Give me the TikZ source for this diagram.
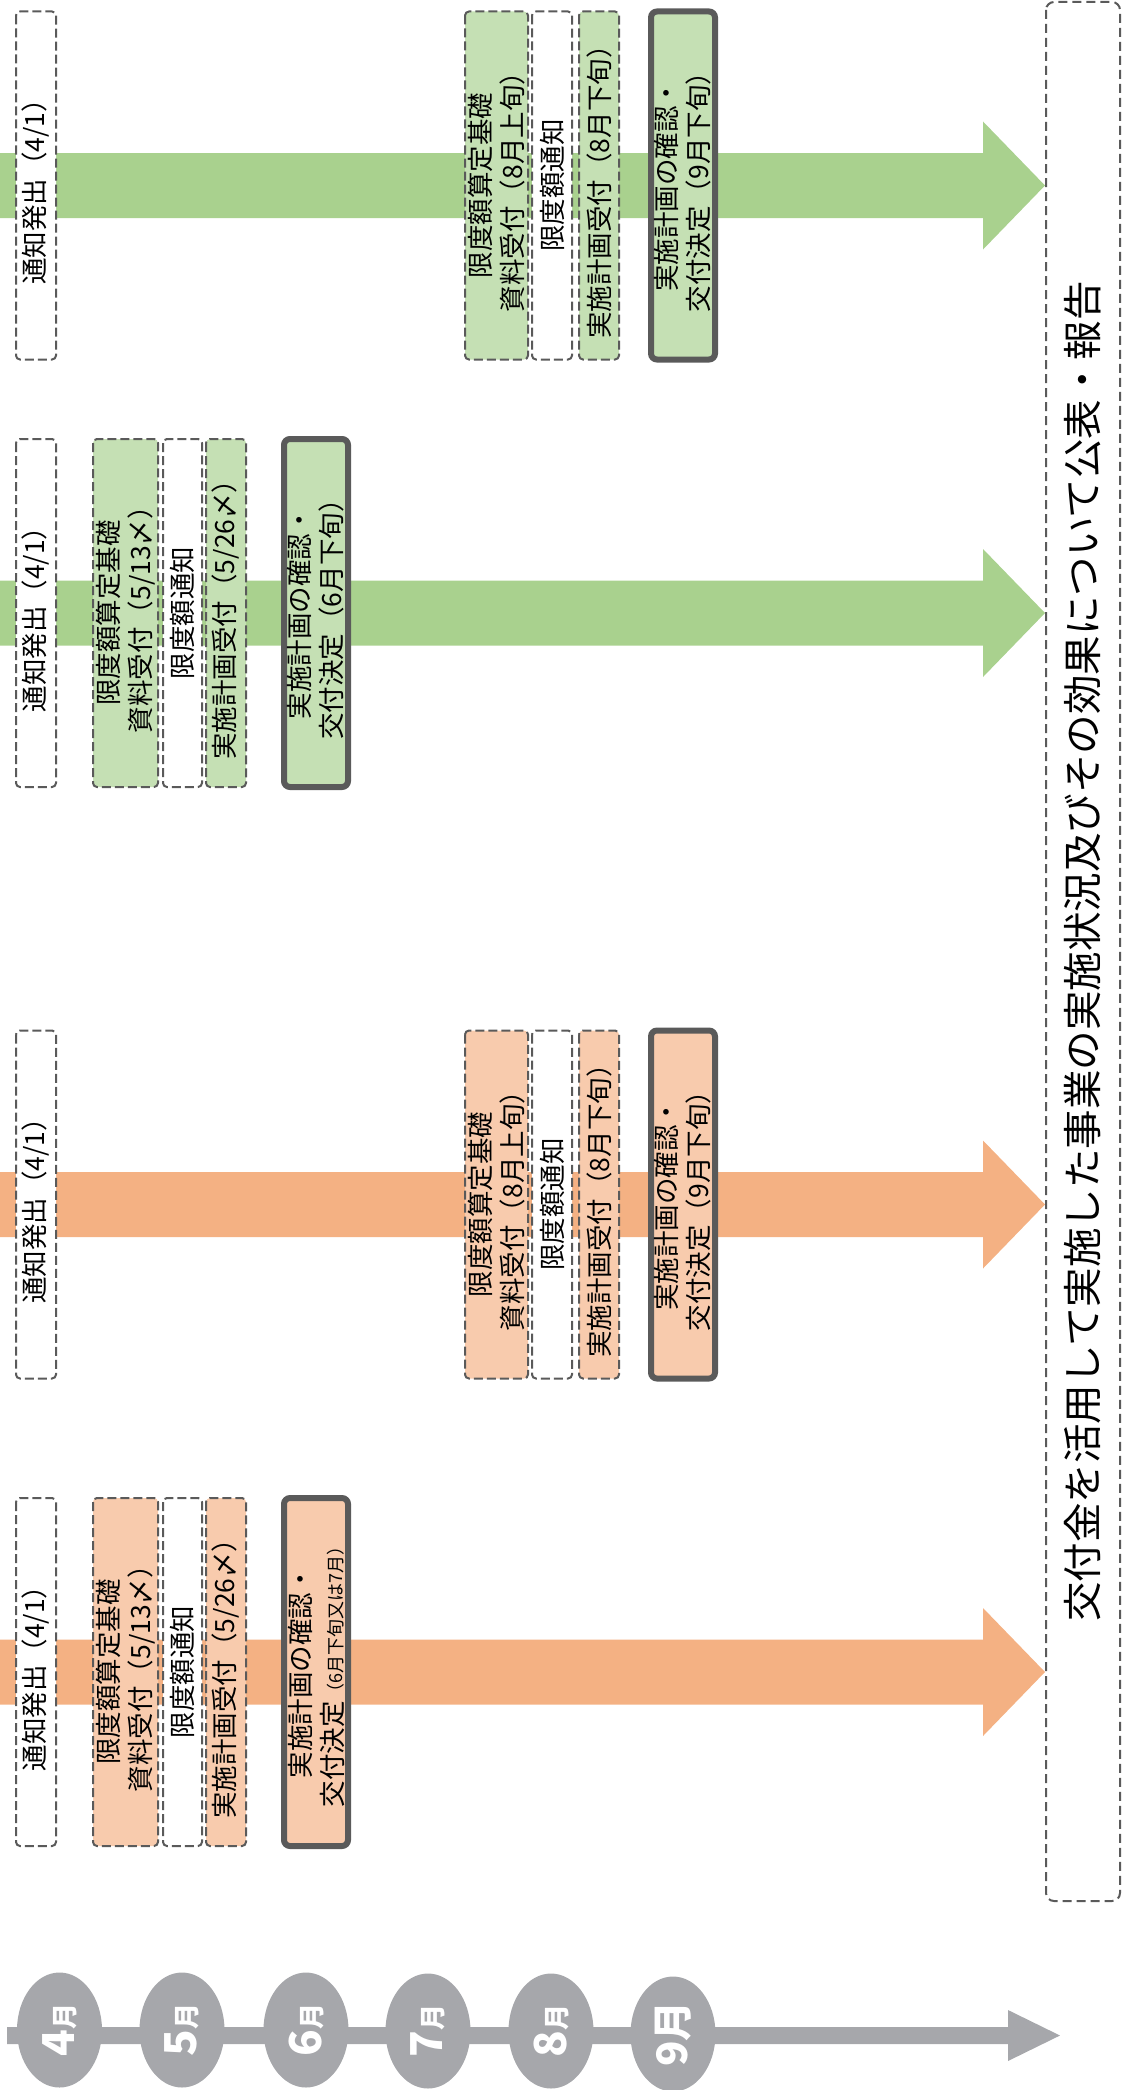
\documentclass[tikz,border=0pt]{standalone}
\usepackage{fontspec}
\setmainfont{Noto Sans CJK JP}
\usetikzlibrary{shapes.geometric}
\definecolor{cGbar}{HTML}{A9D18E}
\definecolor{cGbox}{HTML}{C5E0B4}
\definecolor{cObar}{HTML}{F4B183}
\definecolor{cObox}{HTML}{F8CBAD}
\definecolor{cEdge}{HTML}{5A5A5A}
\definecolor{cTl}{HTML}{A6A7AB}
\newcommand\blockarrow[2]{%
  \fill[#1] (0,#2-32.5) -- (983,#2-32.5) -- (983,#2-64) -- (1045,#2)
     -- (983,#2+64) -- (983,#2+32.5) -- (0,#2+32.5) -- cycle;}
\newcommand\monthtxt[3]{{\fontsize{#2}{#2}\selectfont #1}{\fontsize{#3}{#3}\selectfont 月}}
\tikzset{
  every node/.style={font=\fontsize{26.5}{32}\selectfont, text=black, align=center, inner sep=0pt},
  pbox/.style={draw=cEdge, line width=2pt, dash pattern=on 9pt off 4pt,
               rounded corners=4pt, rotate=90, minimum width=348pt},
  tbox/.style={draw=cEdge, line width=6pt, rounded corners=6pt, rotate=90,
               minimum width=348pt, minimum height=64pt},
  bigbox/.style={draw=cEdge, line width=2pt, dash pattern=on 9pt off 5pt,
               rounded corners=8pt, rotate=90, minimum width=1899pt, minimum height=74pt,
               font=\fontsize{39.5}{40}\selectfont},
  monnode/.style={ellipse, fill=cTl, rotate=90, minimum width=115pt, minimum height=85pt,
               inner sep=0pt, text=white, font=\bfseries},
}
\begin{document}
\begin{tikzpicture}[x=1pt,y=-1pt]
\useasboundingbox (0,0) rectangle (1128,2090);
% block arrows
\blockarrow{cGbar}{185.5}
\blockarrow{cGbar}{613}
\blockarrow{cObar}{1204.5}
\blockarrow{cObar}{1672}
% row 1 (green, later schedule)
\node[pbox, fill=white, minimum height=40pt] (a1) at (36,185.5) {通知発出（4/1）};
\node[pbox, fill=cGbox, minimum height=63pt] (b1) at (496.5,185.5) {限度額算定基礎\\資料受付（8月上旬）};
\node[pbox, fill=white, minimum height=40pt] (c1) at (552,185.5) {限度額通知};
\node[pbox, fill=cGbox, minimum height=40pt] (d1) at (599,185.5) {実施計画受付（8月下旬）};
\node[tbox, fill=cGbox] (e1) at (683,185.5) {実施計画の確認・\\交付決定（9月下旬）};
% row 2 (green, early schedule)
\node[pbox, fill=white, minimum height=40pt] (a2) at (36,613) {通知発出（4/1）};
\node[pbox, fill=cGbox, minimum height=65pt] (b2) at (125.5,613) {限度額算定基礎\\資料受付（5/13〆）};
\node[pbox, fill=white, minimum height=39pt] (c2) at (182.5,613) {限度額通知};
\node[pbox, fill=cGbox, minimum height=40pt] (d2) at (226,613) {実施計画受付（5/26〆）};
\node[tbox, fill=cGbox] (e2) at (316,613) {実施計画の確認・\\交付決定（6月下旬）};
% row 3 (orange, later schedule)
\node[pbox, fill=white, minimum height=40pt] (a3) at (36,1204.5) {通知発出（4/1）};
\node[pbox, fill=cObox, minimum height=63pt] (b3) at (496.5,1204.5) {限度額算定基礎\\資料受付（8月上旬）};
\node[pbox, fill=white, minimum height=40pt] (c3) at (552,1204.5) {限度額通知};
\node[pbox, fill=cObox, minimum height=40pt] (d3) at (599,1204.5) {実施計画受付（8月下旬）};
\node[tbox, fill=cObox] (e3) at (683,1204.5) {実施計画の確認・\\交付決定（9月下旬）};
% row 4 (orange, early schedule)
\node[pbox, fill=white, minimum height=40pt] (a4) at (36,1672) {通知発出（4/1）};
\node[pbox, fill=cObox, minimum height=65pt] (b4) at (125.5,1672) {限度額算定基礎\\資料受付（5/13〆）};
\node[pbox, fill=white, minimum height=39pt] (c4) at (182.5,1672) {限度額通知};
\node[pbox, fill=cObox, minimum height=40pt] (d4) at (226,1672) {実施計画受付（5/26〆）};
\node[tbox, fill=cObox] (e4) at (316,1672) {実施計画の確認・\\交付決定{\fontsize{18}{18}\selectfont（6月下旬又は7月）}};
% final report box
\node[bigbox, fill=white] (rep) at (1083,951.5) {交付金を活用して実施した事業の実施状況及びその効果について公表・報告};
% timeline
\fill[cTl] (7,2027) -- (1008,2027) -- (1008,2010) -- (1060,2035.5)
   -- (1008,2061) -- (1008,2044) -- (7,2044) -- cycle;
\node[monnode] (m4) at (59.5,2030) {\monthtxt{4}{44}{26}};
\node[monnode] (m5) at (182,2030) {\monthtxt{5}{44}{26}};
\node[monnode] (m6) at (306,2030) {\monthtxt{6}{44}{26}};
\node[monnode] (m7) at (428,2031) {\monthtxt{7}{44}{26}};
\node[monnode] (m8) at (551,2031) {\monthtxt{8}{44}{26}};
\node[monnode] (m9) at (673,2034) {\monthtxt{9}{42}{40}};
\end{tikzpicture}
\end{document}
